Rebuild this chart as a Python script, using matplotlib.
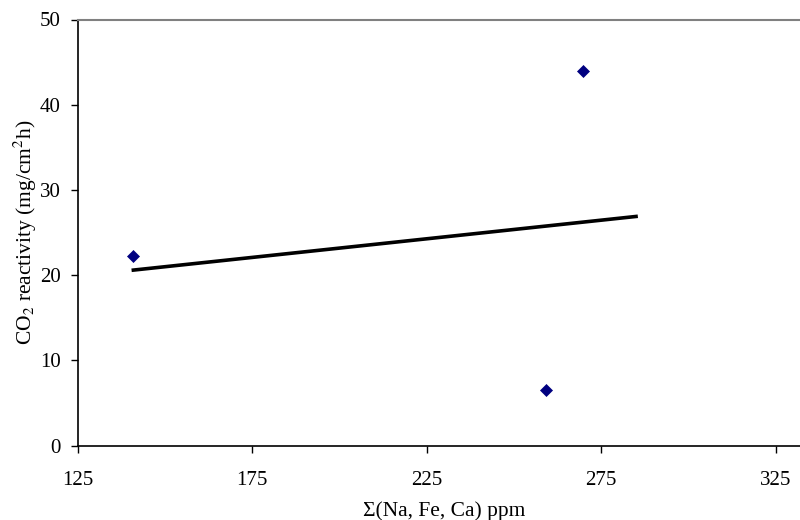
import numpy as np
import matplotlib
matplotlib.use("Agg")
import matplotlib.pyplot as plt

# Data
impurity_ppm = [141.0, 259.2, 269.9]
co2_reactivity = [22.2, 6.5, 43.9]
trend_x_end = 285.0

x_ticks = [125, 175, 225, 275, 325]
y_ticks = [0, 10, 20, 30, 40, 50]

plt.rcParams['font.family'] = ['Liberation Serif', 'DejaVu Serif']
plt.rcParams['mathtext.fontset'] = 'stix'

fig = plt.figure(figsize=(8, 5.2), dpi=100)
ax = fig.add_axes([0.0969, 0.1429, 0.9163, 0.8196])

# trend line (linear least squares, extended forward)
coef = np.polyfit(impurity_ppm, co2_reactivity, 1)
tx = np.array([min(impurity_ppm), trend_x_end])
ax.plot(tx, np.polyval(coef, tx), color='black', lw=2.6, zorder=2)

ax.plot(impurity_ppm, co2_reactivity, linestyle='none', marker='D',
        markersize=6.2, color='#000080', markeredgewidth=0.5, zorder=3)

ax.set_xlim(125, 335)
ax.set_ylim(0, 50)
ax.set_xticks(x_ticks)
ax.set_yticks(y_ticks)

ax.spines['top'].set_color('#808080')
ax.spines['top'].set_linewidth(1.5)
ax.spines['right'].set_visible(False)
ax.spines['left'].set_linewidth(1.2)
ax.spines['bottom'].set_linewidth(1.2)

ax.tick_params(axis='both', direction='out', length=5, width=1, labelsize=15)
ax.tick_params(axis='x', pad=13)
ax.tick_params(axis='y', pad=7)

ax.set_xlabel('Σ(Na, Fe, Ca) ppm', fontsize=15.5, labelpad=8)
ax.set_ylabel(r'CO$_2$ reactivity (mg/cm$^2$h)', fontsize=15.5, labelpad=1)

fig.savefig('out.png', dpi=100)
